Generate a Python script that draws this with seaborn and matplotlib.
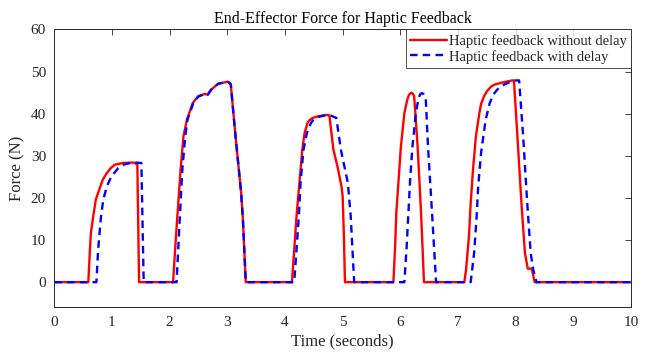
import numpy as np
import pandas as pd
import matplotlib
matplotlib.use("Agg")
import matplotlib.pyplot as plt
import seaborn as sns

# Force profile without delay: time (s) and force (N)
t_no_delay = [0, 0.59, 0.618, 0.635, 0.675, 0.72, 0.78, 0.84, 0.91, 0.98, 1.05, 1.19, 1.37, 1.44, 1.47,
              2.06, 2.11, 2.15, 2.19, 2.24, 2.30, 2.40, 2.49, 2.61, 2.66, 2.72, 2.84, 3.01, 3.06,
              3.14, 3.24, 3.27, 3.32,
              4.12, 4.16, 4.20, 4.25, 4.30, 4.34, 4.39, 4.42, 4.48, 4.55, 4.62, 4.72, 4.77, 4.84,
              4.91, 4.98, 5.00, 5.02, 5.04,
              5.88, 5.91, 5.93, 5.97, 6.01, 6.07, 6.12, 6.15, 6.19, 6.22, 6.24, 6.30, 6.36, 6.41,
              7.11, 7.14, 7.19, 7.22, 7.26, 7.31, 7.37, 7.40, 7.45, 7.50, 7.57, 7.63, 7.71, 7.80,
              7.94, 7.97, 8.03, 8.10, 8.16, 8.21, 8.28, 8.33, 10.0]
f_no_delay = [0, 0, 7.7, 11.7, 15.6, 19.6, 22.0, 24.3, 25.9, 27.1, 27.9, 28.3, 28.4, 28.0, 0,
              0, 10.9, 18.8, 26.7, 34.6, 38.6, 42.5, 44.1, 44.7, 44.5, 45.7, 47.1, 47.6, 47.0,
              35.0, 21.2, 15.0, 0,
              0, 7.7, 15.6, 23.6, 31.4, 35.4, 37.8, 38.4, 39.0, 39.3, 39.5, 39.7, 39.6, 31.4,
              27.5, 22.7, 20.4, 11.7, 0,
              0, 8.5, 16.4, 24.3, 32.2, 40.1, 43.3, 44.5, 45.0, 44.7, 44.1, 32.2, 16.4, 0,
              0, 3.0, 10.9, 18.8, 26.7, 34.6, 40.1, 42.3, 44.1, 45.3, 46.4, 46.9, 47.2, 47.5,
              47.9, 47.9, 34.6, 18.8, 7.0, 3.2, 3.2, 0, 0]

# Force profile with delay: time (s) and force (N)
t_delay = [0, 0.73, 0.76, 0.81, 0.85, 0.91, 0.99, 1.11, 1.22, 1.37, 1.51, 1.55,
           2.12, 2.16, 2.19, 2.22, 2.27, 2.31, 2.41, 2.50, 2.61, 2.66, 2.72, 2.84, 3.01, 3.06,
           3.14, 3.24, 3.27, 3.32,
           4.16, 4.20, 4.24, 4.27, 4.32, 4.38, 4.45, 4.49, 4.54, 4.60, 4.70, 4.77, 4.89, 4.97,
           5.09, 5.14, 5.17, 5.20,
           6.07, 6.11, 6.14, 6.17, 6.21, 6.27, 6.31, 6.34, 6.37, 6.40, 6.44, 6.48, 6.55, 6.62,
           7.22, 7.28, 7.32, 7.35, 7.40, 7.48, 7.55, 7.61, 7.68, 7.73, 7.80, 7.88, 8.00, 8.06,
           8.13, 8.20, 8.26, 8.30, 8.36, 10.0]
f_delay = [0, 0, 7.7, 15.6, 19.6, 22.7, 25.1, 27.1, 28.0, 28.4, 28.3, 0,
           0, 10.9, 18.8, 26.7, 34.6, 38.6, 42.5, 44.1, 44.7, 44.5, 45.7, 47.1, 47.6, 47.0,
           35.0, 21.2, 15.0, 0,
           0, 7.7, 15.6, 23.6, 31.4, 35.4, 37.8, 38.5, 39.0, 39.3, 39.6, 39.7, 39.0, 31.4,
           23.6, 15.6, 7.7, 0,
           0, 8.5, 16.4, 24.3, 32.2, 40.1, 43.3, 44.5, 44.9, 44.7, 43.8, 32.2, 16.4, 0,
           0, 7.0, 14.9, 22.7, 30.7, 38.6, 42.5, 44.5, 45.7, 46.4, 46.9, 47.4, 47.9, 47.9,
           34.6, 18.8, 7.0, 3.2, 0, 0]

x_ticks = list(range(0, 11))
y_ticks = list(range(0, 61, 10))

sns.set_style("white")
plt.rcParams["font.family"] = ["Liberation Serif", "DejaVu Serif"]

fig = plt.figure(figsize=(6.58, 3.55), dpi=100)
ax = fig.add_axes([0.0825, 0.134, 0.8765, 0.783])

axis_gray = "#262626"

sns.lineplot(x=t_no_delay, y=f_no_delay, ax=ax, color="#ff0000", linewidth=1.7,
             sort=False, label="Haptic feedback without delay")
sns.lineplot(x=t_delay, y=f_delay, ax=ax, color="#0000ff", linewidth=1.7,
             sort=False, label="Haptic feedback with delay", linestyle=(0, (3.2, 2.2)))

ax.set_xlim(0, 10)
ax.set_ylim(-6, 60)
ax.set_xticks(x_ticks)
ax.set_yticks(y_ticks)
ax.tick_params(direction="in", length=4, width=0.6, top=True, right=True,
               labelsize=11, colors=axis_gray, pad=6)
for s in ax.spines.values():
    s.set_visible(True)
    s.set_color(axis_gray)
    s.set_linewidth(0.7)

ax.set_title("End-Effector Force for Haptic Feedback", fontsize=11.5, color="black", pad=5)
ax.set_xlabel("Time (seconds)", fontsize=12, color=axis_gray, labelpad=3)
ax.set_ylabel("Force (N)", fontsize=12, color=axis_gray, labelpad=4)

leg = ax.legend(loc="upper right", borderaxespad=0, fontsize=10.5, frameon=True,
                fancybox=False, handlelength=2.5, handletextpad=0.15,
                borderpad=0.3, labelspacing=0.15)
leg.get_frame().set_edgecolor(axis_gray)
leg.get_frame().set_linewidth(0.7)

fig.savefig("out.png", dpi=100)
